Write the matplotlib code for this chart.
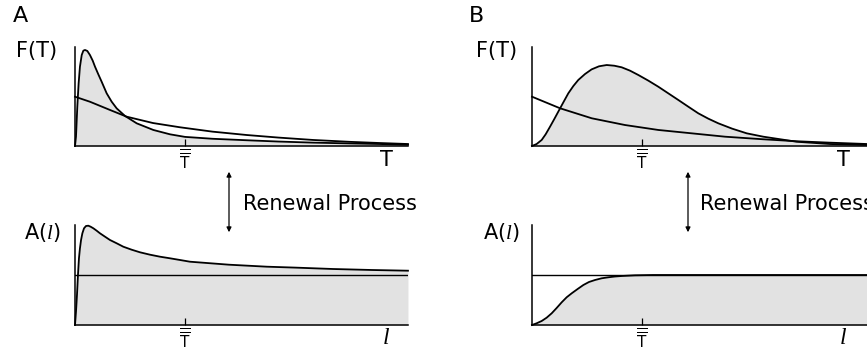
import matplotlib.pyplot as plt
from matplotlib.patches import FancyArrowPatch


plt.rcParams['font.family'] = 'DejaVu Sans'
plt.rcParams['mathtext.fontset'] = 'custom'
plt.rcParams['mathtext.rm'] = 'DejaVu Sans'
plt.rcParams['mathtext.it'] = 'Liberation Serif:italic'

W, H = 867, 354
FILL = '#e2e2e2'

# x in units of the mean interval (T-bar = 1), y as a fraction of the axis height

# panel A, top: peaked interval distribution and exponential reference
a_top_x = [0, 0.009, 0.021, 0.033, 0.045, 0.061, 0.076, 0.091, 0.112, 0.136, 0.161,
           0.182, 0.212, 0.242, 0.288, 0.333, 0.379, 0.455, 0.561, 0.712, 0.864,
           1.0, 1.25, 1.561, 1.85, 2.164, 2.5, 2.773, 3.027]
a_top_f = [0, 0.094, 0.397, 0.633, 0.801, 0.919, 0.963, 0.970, 0.960, 0.919, 0.862,
           0.801, 0.724, 0.650, 0.532, 0.448, 0.380, 0.303, 0.229, 0.162, 0.118,
           0.092, 0.073, 0.058, 0.045, 0.034, 0.026, 0.02, 0.012]
a_exp_x = [0, 0.136, 0.318, 0.47, 0.709, 0.955, 1.25, 1.561, 1.85, 2.164, 2.5, 2.773, 3.027]
a_exp_f = [0.498, 0.447, 0.364, 0.296, 0.232, 0.189, 0.145, 0.111, 0.085, 0.061, 0.042, 0.030, 0.02]

# panel A, bottom: A(l)
a_bot_x = [0, 0.009, 0.018, 0.027, 0.036, 0.045, 0.055, 0.067, 0.082, 0.1, 0.121,
           0.142, 0.167, 0.197, 0.227, 0.273, 0.318, 0.379, 0.439, 0.515, 0.591,
           0.682, 0.773, 0.864, 0.955, 1.045, 1.4, 1.745, 2.0, 2.345, 2.7, 3.027]
a_bot_f = [0, 0.133, 0.30, 0.50, 0.667, 0.767, 0.85, 0.917, 0.967, 0.99, 0.993,
           0.983, 0.967, 0.943, 0.917, 0.883, 0.85, 0.817, 0.783, 0.753, 0.727,
           0.703, 0.683, 0.667, 0.65, 0.633, 0.603, 0.583, 0.574, 0.56, 0.55, 0.543]

# panel B, top: gamma-like interval distribution and exponential reference
b_top_x = [0, 0.042, 0.088, 0.124, 0.164, 0.203, 0.239, 0.285, 0.33, 0.376, 0.421,
           0.482, 0.542, 0.609, 0.679, 0.748, 0.815, 0.891, 0.967, 1.058, 1.148,
           1.239, 1.33, 1.421, 1.512, 1.603, 1.694, 1.82, 1.952, 2.103, 2.406,
           2.709, 3.045]
b_top_f = [0, 0.020, 0.061, 0.118, 0.195, 0.273, 0.347, 0.441, 0.532, 0.606, 0.667,
           0.727, 0.774, 0.805, 0.818, 0.811, 0.795, 0.761, 0.717, 0.660, 0.599,
           0.532, 0.465, 0.397, 0.330, 0.276, 0.229, 0.175, 0.128, 0.094, 0.043,
           0.02, 0.01]
b_exp_x = [0, 0.255, 0.543, 0.845, 1.148, 1.452, 1.755, 2.1, 2.406, 2.7, 3.045]
b_exp_f = [0.498, 0.381, 0.28, 0.212, 0.162, 0.128, 0.094, 0.068, 0.048, 0.034, 0.02]

# panel B, bottom
b_bot_x = [0, 0.042, 0.088, 0.133, 0.179, 0.224, 0.27, 0.315, 0.361, 0.415, 0.467,
           0.518, 0.573, 0.633, 0.694, 0.755, 0.815, 0.936, 1.1, 3.045]
b_bot_f = [0, 0.017, 0.04, 0.073, 0.117, 0.17, 0.227, 0.277, 0.317, 0.36, 0.40,
           0.43, 0.45, 0.467, 0.477, 0.485, 0.49, 0.497, 0.5, 0.5]

baseline = 0.5
tbar = 1.0


def px_axes(fig, left, top, right, bottom):
  ax = fig.add_axes([left / W, 1 - bottom / H, (right - left) / W, (bottom - top) / H])
  ax.set_xlim(0, (right - left) / 110)
  ax.set_ylim(0, 1)
  for s in ['top', 'right']:
    ax.spines[s].set_visible(False)
  for s in ['left', 'bottom']:
    ax.spines[s].set_linewidth(1.1)
  ax.set_yticks([])
  ax.set_xticks([tbar], [r'$\overline{\overline{\mathrm{T}}}$'], fontsize=11)
  ax.tick_params(axis='x', direction='in', length=5, width=0.9, pad=2)
  ax.patch.set_alpha(0)
  return ax


def ftext(fig, x, y, s, **kw):
  fig.text(x / W, 1 - y / H, s, ha='center', va='center', **kw)


def arrow(fig, x, y0, y1):
  fig.add_artist(FancyArrowPatch((x / W, 1 - y0 / H), (x / W, 1 - y1 / H),
                                 transform=fig.transFigure, arrowstyle='<|-|>',
                                 mutation_scale=7, lw=0.9, color='k'))


fig = plt.figure(figsize=(W / 100, H / 100), dpi=100)

lw = 1.3

# A top
ax = px_axes(fig, 75, 47, 408, 146)
ax.fill_between(a_top_x, a_top_f, color=FILL, lw=0)
ax.plot(a_top_x, a_top_f, color='k', lw=lw, clip_on=False)
ax.plot(a_exp_x, a_exp_f, color='k', lw=lw, clip_on=False)

# A bottom
ax = px_axes(fig, 75, 225, 408, 325)
ax.fill_between(a_bot_x, a_bot_f, color=FILL, lw=0)
ax.plot(a_bot_x, a_bot_f, color='k', lw=lw, clip_on=False)
ax.axhline(baseline, color='k', lw=1.0)

# B top
ax = px_axes(fig, 532, 47, 867, 146)
ax.fill_between(b_top_x, b_top_f, color=FILL, lw=0)
ax.plot(b_top_x, b_top_f, color='k', lw=lw, clip_on=False)
ax.plot(b_exp_x, b_exp_f, color='k', lw=lw, clip_on=False)

# B bottom
ax = px_axes(fig, 532, 225, 867, 325)
ax.fill_between(b_bot_x, b_bot_f, color=FILL, lw=0)
ax.plot(b_bot_x, b_bot_f, color='k', lw=lw, clip_on=False)
ax.axhline(baseline, color='k', lw=1.0)

# labels
ftext(fig, 20, 16, 'A', fontsize=16)
ftext(fig, 476, 16, 'B', fontsize=16)
ftext(fig, 37, 51, 'F(T)', fontsize=15)
ftext(fig, 497, 51, 'F(T)', fontsize=15)
ftext(fig, 42, 232, r'A($l$)', fontsize=15)
ftext(fig, 501, 232, r'A($l$)', fontsize=15)
ftext(fig, 386, 160, 'T', fontsize=15)
ftext(fig, 843, 160, 'T', fontsize=15)
ftext(fig, 386, 338, 'l', fontsize=17, family='Liberation Serif', style='italic')
ftext(fig, 843, 338, 'l', fontsize=17, family='Liberation Serif', style='italic')

arrow(fig, 229, 169, 235)
arrow(fig, 688, 169, 235)
fig.text(243 / W, 1 - 204 / H, 'Renewal Process', ha='left', va='center', fontsize=15)
fig.text(700 / W, 1 - 204 / H, 'Renewal Process', ha='left', va='center', fontsize=15)

fig.savefig('out.png', dpi=100)
